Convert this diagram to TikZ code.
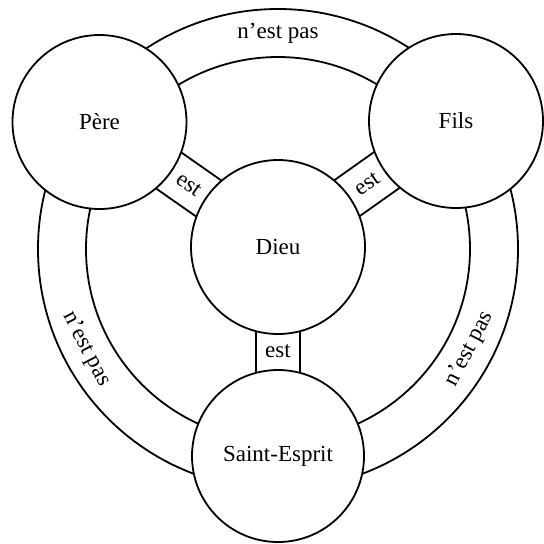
\documentclass[tikz,border=0pt]{standalone}
\usepackage{fontspec}
\setmainfont{Liberation Serif}
\usetikzlibrary{positioning,calc,backgrounds}

\begin{document}
\begin{tikzpicture}[on grid,line width=0.9pt,
        font=\fontsize{11.5pt}{13pt}\selectfont,
        person/.style={circle,draw,fill=white,minimum size=87pt,inner sep=0pt},
        rim/.style={draw,line width=0.9pt}]
    \useasboundingbox (-139pt,-148pt) rectangle (133pt,123.5pt);
    \node[person] (dieu) at (0,0) {Dieu};
    \node[person] (pere) [above left=62.5pt and 89.25pt of dieu] {Père};
    \node[person] (fils) [above right=63pt and 89pt of dieu] {Fils};
    \node[person,minimum size=86pt] (esprit) [below=104.5pt of dieu] {Saint-Esprit};
    \coordinate[below=1pt of dieu] (rc);
    \begin{scope}[on background layer]
        \path[rim] (rc) circle[radius=120pt] (rc) circle[radius=96pt];
        \foreach \p in {pere,fils,esprit}
            \path[rim] ($(dieu)!11pt!90:(\p)$) -- ($(\p)!11pt!-90:(dieu)$)
                  ($(dieu)!11pt!-90:(\p)$) -- ($(\p)!11pt!90:(dieu)$);
    \end{scope}
    \node[rotate=-35] (est1) at ($(dieu)!0.5!(pere)$) {est};
    \node[rotate=35] (est2) at ($(dieu)!0.5!(fils)$) {est};
    \node (est3) at ($(dieu)!0.5!(esprit)$) {est};
    \node (pas1) at ($(rc)+(90:108pt)$) {n’est pas};
    \node[rotate=-62.5] (pas2) at ($(rc)+(-152.5:108pt)$) {n’est pas};
    \node[rotate=62.5] (pas3) at ($(rc)+(-27.5:108pt)$) {n’est pas};
\end{tikzpicture}
\end{document}
